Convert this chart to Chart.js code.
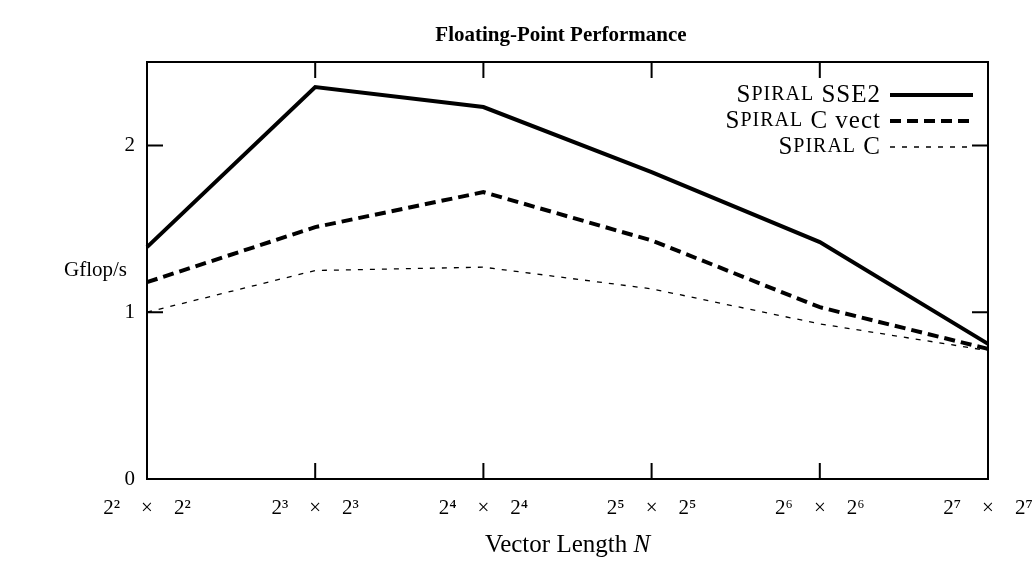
<!DOCTYPE html>
<html><head><meta charset="utf-8">
<script src="https://cdn.jsdelivr.net/npm/chart.js@4"></script>
<style>html,body{margin:0;padding:0;background:#fff}#wrap{width:1036px;height:570px;position:relative}</style>
</head><body><div id="wrap"><canvas id="c"></canvas></div>
<script>
const categories = ['2²\u2003×\u20032²','2³\u2003×\u20032³','2⁴\u2003×\u20032⁴','2⁵\u2003×\u20032⁵','2⁶\u2003×\u20032⁶','2⁷\u2003×\u20032⁷'];
const spiralSSE2 = [1.39, 2.35, 2.23, 1.84, 1.42, 0.81];
const spiralCVect = [1.18, 1.51, 1.72, 1.43, 1.03, 0.78];
const spiralC = [1.00, 1.25, 1.27, 1.14, 0.93, 0.77];
const yTicks = [0, 1, 2];
const seriesNames = ['Spiral SSE2', 'Spiral C vect', 'Spiral C'];
const chartTitle = 'Floating-Point Performance';
const yTitle = 'Gflop/s';
const xTitleMain = 'Vector Length ';
const xTitleVar = 'N';

const FONT = "'Liberation Serif', 'DejaVu Serif', serif";

function drawSmallCaps(ctx, word, x, y, size) {
  ctx.font = size + "px " + FONT;
  ctx.fillText(word[0], x, y);
  let w = ctx.measureText(word[0]).width;
  ctx.font = Math.round(size * 0.8) + "px " + FONT;
  const restUp = word.slice(1).toUpperCase();
  ctx.fillText(restUp, x + w, y);
  w += ctx.measureText(restUp).width;
  return w;
}
function measureSmallCaps(ctx, word, size) {
  ctx.font = size + "px " + FONT;
  let w = ctx.measureText(word[0]).width;
  ctx.font = Math.round(size * 0.8) + "px " + FONT;
  w += ctx.measureText(word.slice(1).toUpperCase()).width;
  return w;
}

const framePlugin = {
  id: 'frame',
  afterDraw(chart) {
    const ctx = chart.ctx;
    const a = chart.chartArea;
    const xs = chart.scales.x, ys = chart.scales.y;
    ctx.save();
    ctx.strokeStyle = '#000';
    ctx.lineWidth = 2;
    ctx.setLineDash([]);
    ctx.strokeRect(a.left, a.top, a.right - a.left, a.bottom - a.top);
    const tl = 16;
    ctx.beginPath();
    categories.forEach((c, i) => {
      const px = xs.getPixelForValue(i);
      ctx.moveTo(px, a.bottom); ctx.lineTo(px, a.bottom - tl);
      ctx.moveTo(px, a.top); ctx.lineTo(px, a.top + tl);
    });
    yTicks.forEach(v => {
      const py = ys.getPixelForValue(v);
      ctx.moveTo(a.left, py); ctx.lineTo(a.left + tl, py);
      ctx.moveTo(a.right, py); ctx.lineTo(a.right - tl, py);
    });
    ctx.stroke();

    ctx.fillStyle = '#000';
    ctx.textBaseline = 'middle';

    // chart title
    ctx.textAlign = 'center';
    ctx.font = "bold 21px " + FONT;
    ctx.fillText(chartTitle, 561, 36);

    // y title
    ctx.textAlign = 'right';
    ctx.font = "21px " + FONT;
    ctx.fillText(yTitle, a.left - 20, (a.top + a.bottom) / 2);

    // x title
    ctx.textAlign = 'left';
    const XF = 25;
    ctx.font = XF + "px " + FONT;
    const w1 = ctx.measureText(xTitleMain).width;
    ctx.font = "italic " + XF + "px " + FONT;
    const w2 = ctx.measureText(xTitleVar).width;
    const cx = (a.left + a.right) / 2;
    const x0 = cx - (w1 + w2) / 2;
    const ty = 545;
    ctx.font = XF + "px " + FONT;
    ctx.fillText(xTitleMain, x0, ty);
    ctx.font = "italic " + XF + "px " + FONT;
    ctx.fillText(xTitleVar, x0 + w1, ty);

    // legend
    const rows = [95, 121, 147];
    const textRight = 881, lx0 = 890, lx1 = 973;
    const LS = 25;
    chart.data.datasets.forEach((ds, i) => {
      const y = rows[i];
      ctx.save();
      ctx.strokeStyle = '#000';
      ctx.lineWidth = ds.borderWidth;
      ctx.setLineDash(ds.borderDash || []);
      ctx.beginPath();
      ctx.moveTo(lx0, y); ctx.lineTo(lx1, y);
      ctx.stroke();
      ctx.restore();
      const label = ds.label;
      const sp = label.indexOf(' ');
      const first = label.slice(0, sp);
      const rest = label.slice(sp);
      ctx.textAlign = 'left';
      ctx.letterSpacing = '1px';
      ctx.font = LS + "px " + FONT;
      const wr = ctx.measureText(rest).width;
      const wf = measureSmallCaps(ctx, first, LS);
      drawSmallCaps(ctx, first, textRight - wr - wf, y, LS);
      ctx.font = LS + "px " + FONT;
      ctx.fillText(rest, textRight - wr, y);
      ctx.letterSpacing = '0px';
    });
    ctx.restore();
  }
};

new Chart(document.getElementById('c'), {
  type: 'line',
  data: {
    labels: categories,
    datasets: [
      { label: seriesNames[0], data: spiralSSE2, borderColor: '#000', borderWidth: 4, borderDash: [] },
      { label: seriesNames[1], data: spiralCVect, borderColor: '#000', borderWidth: 4, borderDash: [11, 6] },
      { label: seriesNames[2], data: spiralC, borderColor: '#000', borderWidth: 1.3, borderDash: [5, 7] }
    ]
  },
  options: {
    responsive: true,
    maintainAspectRatio: false,
    devicePixelRatio: 1,
    animation: false,
    elements: { point: { radius: 0, hoverRadius: 0 }, line: { tension: 0, fill: false } },
    layout: { padding: { left: 0, right: 48, top: 62, bottom: 0 } },
    plugins: {
      legend: { display: false },
      tooltip: { enabled: false },
      title: { display: false }
    },
    scales: {
      x: {
        type: 'category', offset: false,
        grid: { display: false, drawTicks: false },
        border: { display: false },
        ticks: { color: '#000', font: { family: FONT, size: 21 }, padding: 17, maxRotation: 0, autoSkip: false },
        afterFit(s) { s.height = 91; s.paddingLeft = 0; s.paddingRight = 0; }
      },
      y: {
        min: 0, max: 2.5,
        grid: { display: false, drawTicks: false },
        border: { display: false },
        ticks: { color: '#000', font: { family: FONT, size: 21 }, padding: 12 },
        afterBuildTicks(s) { s.ticks = yTicks.map(v => ({ value: v })); },
        afterFit(s) { s.width = 147; s.paddingTop = 0; s.paddingBottom = 0; }
      }
    }
  },
  plugins: [framePlugin]
});
</script>
</body></html>
